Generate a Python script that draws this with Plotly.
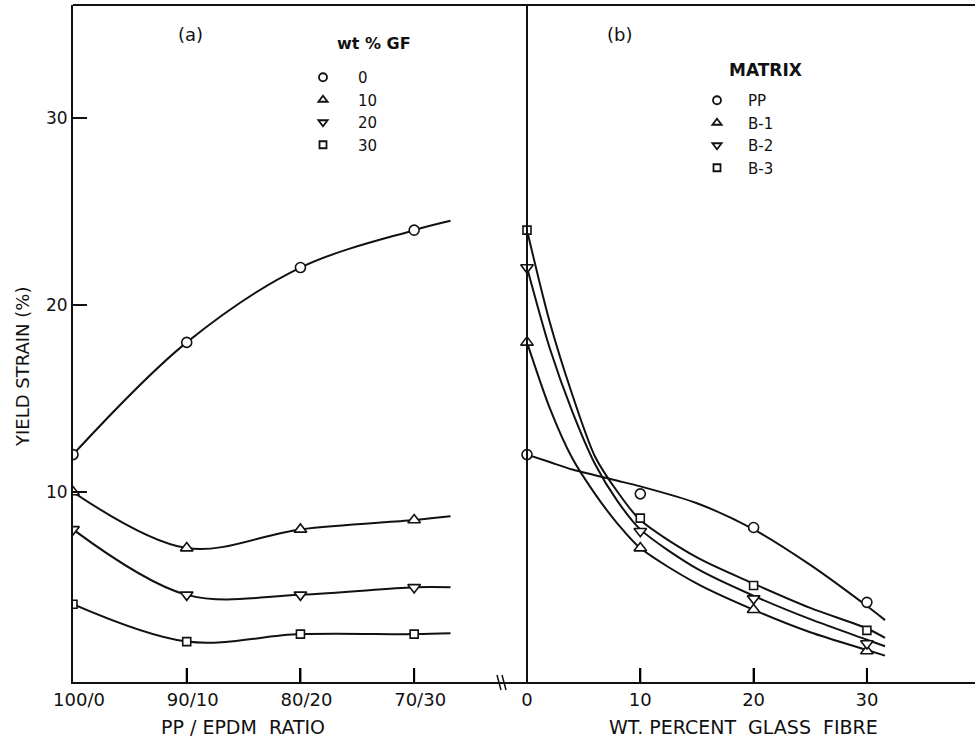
import plotly.graph_objects as go

# ---------------- data ----------------
# panel (a): yield strain vs PP/EPDM ratio, one series per wt% glass fibre
ratio_labels = ["100/0", "90/10", "80/20", "70/30"]
ratio_pos = [0, 1, 2, 3]
gf_levels = ["0", "10", "20", "30"]
a_gf0 = [12.0, 18.0, 22.0, 24.0]
a_gf10 = [10.0, 7.0, 8.0, 8.5]
a_gf20 = [8.0, 4.5, 4.5, 4.9]
a_gf30 = [4.0, 2.0, 2.4, 2.4]
# smooth fitted curves extend slightly beyond 70/30
a_curve_end_pos = 3.32
a_curve_end = [24.5, 8.7, 4.9, 2.45]

# panel (b): yield strain vs wt% glass fibre, one series per matrix
gf_pct = [0, 10, 20, 30]
matrices = ["PP", "B-1", "B-2", "B-3"]
b_pp = [12.0, 9.9, 8.1, 4.1]
b_b1 = [18.0, 7.0, 3.7, 1.5]
b_b2 = [22.0, 7.9, 4.3, 1.9]
b_b3 = [24.0, 8.6, 5.0, 2.6]
# fitted curves drawn through the points
b_curve_x = [0, 2, 4, 6, 8, 10, 15, 20, 25, 30, 31.6]
b_curve_pp = [12.0, 11.6, 11.2, 10.9, 10.6, 10.3, 9.4, 8.0, 6.1, 3.9, 3.15]
b_curve_b1 = [18.0, 14.5, 11.8, 9.9, 8.3, 7.0, 5.1, 3.7, 2.5, 1.55, 1.25]
b_curve_b2 = [22.0, 17.7, 14.3, 11.5, 9.5, 8.0, 5.9, 4.45, 3.2, 2.1, 1.75]
b_curve_b3 = [24.0, 19.1, 15.2, 11.9, 10.0, 8.5, 6.5, 5.1, 3.8, 2.7, 2.2]

y_ticks = [10, 20, 30]

# ---------------- figure ----------------
symbols = ["circle", "triangle-up", "triangle-down", "square"]
sizes = [10, 11, 11, 8]
FONT = "DejaVu Sans, Verdana, sans-serif"
BLK = "#111111"
NB = "\u00a0"

split = 427 / 902
y_range = [-0.16, 36.04]
xa_range = [0, 3.755]
xb_range = [-2.383, 39.54]
PLOT_H = 677  # plot-area height in px

fig = go.Figure()

a_series = [a_gf0, a_gf10, a_gf20, a_gf30]
for vals, end, sym, sz, name in zip(a_series, a_curve_end, symbols, sizes, gf_levels):
    fig.add_trace(go.Scatter(
        x=ratio_pos + [a_curve_end_pos], y=vals + [end], mode="lines",
        line=dict(color=BLK, width=2, shape="spline", smoothing=1.0),
        xaxis="x", yaxis="y", showlegend=False, hoverinfo="skip"))
    fig.add_trace(go.Scatter(
        x=ratio_pos, y=vals, mode="markers",
        marker=dict(symbol=sym, size=sz, color="white", line=dict(color=BLK, width=1.6)),
        xaxis="x", yaxis="y", showlegend=False, name=name))
    fig.add_trace(go.Scatter(
        x=[None], y=[None], mode="markers", name=name,
        marker=dict(symbol=sym, size=8 if sym != "square" else 7, color="white",
                    line=dict(color=BLK, width=1.8)),
        xaxis="x", yaxis="y", legend="legend", showlegend=True))

b_series = [b_pp, b_b1, b_b2, b_b3]
b_curves = [b_curve_pp, b_curve_b1, b_curve_b2, b_curve_b3]
for vals, curve, sym, sz, name in zip(b_series, b_curves, symbols, sizes, matrices):
    fig.add_trace(go.Scatter(
        x=b_curve_x, y=curve, mode="lines",
        line=dict(color=BLK, width=2, shape="spline", smoothing=0.8),
        xaxis="x2", yaxis="y", showlegend=False, hoverinfo="skip"))
    fig.add_trace(go.Scatter(
        x=gf_pct, y=vals, mode="markers",
        marker=dict(symbol=sym, size=sz, color="white", line=dict(color=BLK, width=1.6)),
        xaxis="x2", yaxis="y", showlegend=False, name=name))
    fig.add_trace(go.Scatter(
        x=[None], y=[None], mode="markers", name=name,
        marker=dict(symbol=sym, size=8 if sym != "square" else 7, color="white",
                    line=dict(color=BLK, width=1.8)),
        xaxis="x2", yaxis="y", legend="legend2", showlegend=True))

xcommon = dict(ticks="inside", ticklen=14, tickwidth=2, tickcolor="#000000",
               showline=True, linecolor=BLK, linewidth=2, showgrid=False,
               zeroline=False, anchor="y", side="bottom", layer="above traces",
               tickfont=dict(size=18, family=FONT, color=BLK))

fig.update_layout(
    width=975, height=744,
    margin=dict(l=73, r=0, t=5, b=62),
    paper_bgcolor="white", plot_bgcolor="rgba(0,0,0,0)",
    font=dict(family=FONT, size=16, color=BLK),
    xaxis=dict(domain=[0, split], range=xa_range, tickmode="array",
               tickvals=ratio_pos, ticktext=ratio_labels, ticklabelshift=6, **xcommon),
    xaxis2=dict(domain=[split, 1], range=xb_range, tickmode="array",
                tickvals=gf_pct, ticktext=[str(v) for v in gf_pct], **xcommon),
    yaxis=dict(range=y_range, tickmode="array", tickvals=y_ticks,
               ticktext=[str(v) for v in y_ticks], ticks="inside", ticklen=14,
               tickwidth=1.5, tickcolor=BLK, showline=True, linecolor=BLK, linewidth=2,
               showgrid=False, zeroline=False, anchor="x",
               tickfont=dict(size=17, family=FONT, color=BLK)),
    legend=dict(x=(288 - 73) / 902, y=(682 - 61) / 677, xanchor="left", yanchor="top",
                bgcolor="rgba(0,0,0,0)", font=dict(size=15, family=FONT, color=BLK),
                itemwidth=60, tracegroupgap=0),
    legend2=dict(x=(686 - 73) / 902, y=(682 - 84) / 677, xanchor="left", yanchor="top",
                 bgcolor="rgba(0,0,0,0)", font=dict(size=15, family=FONT, color=BLK),
                 itemwidth=52, tracegroupgap=0),
)

def px(xp):
    return (xp - 73) / 902

def py(yp):
    return (682 - yp) / 677

# inward tick marks on the bottom axis, placed at the tick values on each x scale
for v in ratio_pos[1:]:
    fig.add_shape(type="line", xref="x", yref="paper", x0=v, x1=v, y0=0, y1=14 / PLOT_H,
                  layer="above", line=dict(color="#000000", width=2))
for v in gf_pct[1:]:
    fig.add_shape(type="line", xref="x2", yref="paper", x0=v, x1=v, y0=0, y1=14 / PLOT_H,
                  layer="above", line=dict(color="#000000", width=2))

# top frame line
fig.add_shape(type="line", xref="paper", yref="paper", x0=0, x1=1, y0=1, y1=1,
              line=dict(color=BLK, width=2))
# right panel vertical axis line at 0 wt% GF
fig.add_shape(type="line", xref="x2", yref="paper", x0=0, x1=0, y0=0, y1=1,
              line=dict(color=BLK, width=2))
# axis break marks (decoration on the axis line)
for xo in (497, 502):
    fig.add_shape(type="line", xref="paper", yref="paper",
                  x0=px(xo), x1=px(xo + 4), y0=py(675), y1=py(690),
                  line=dict(color=BLK, width=1.5))

ann = [
    dict(text="PP" + NB + "/" + NB + "EPDM" + NB * 2 + "RATIO", x=px(243), y=py(727), size=19, bold=False),
    dict(text="WT." + NB + "PERCENT" + NB * 2 + "GLASS" + NB * 2 + "FIBRE", x=px(743), y=py(727), size=19, bold=False),
    dict(text="(a)", x=px(190), y=py(35), size=18, bold=False),
    dict(text="(b)", x=px(619), y=py(35), size=18, bold=False),
    dict(text="wt % GF", x=px(374), y=py(43), size=16, bold=True),
    dict(text="MATRIX", x=px(765), y=py(70), size=17, bold=True),
]
for a in ann:
    fig.add_annotation(text=("<b>%s</b>" % a["text"]) if a["bold"] else a["text"],
                       x=a["x"], y=a["y"], xref="paper", yref="paper", showarrow=False,
                       xanchor="center", yanchor="middle",
                       font=dict(size=a["size"], family=FONT, color=BLK))
fig.add_annotation(text="YIELD" + NB + "STRAIN" + NB + "(%)", x=px(22), y=py(367),
                   xref="paper", yref="paper", showarrow=False, textangle=-90,
                   xanchor="center", yanchor="middle",
                   font=dict(size=18, family=FONT, color=BLK))

fig.write_html("out.html")
